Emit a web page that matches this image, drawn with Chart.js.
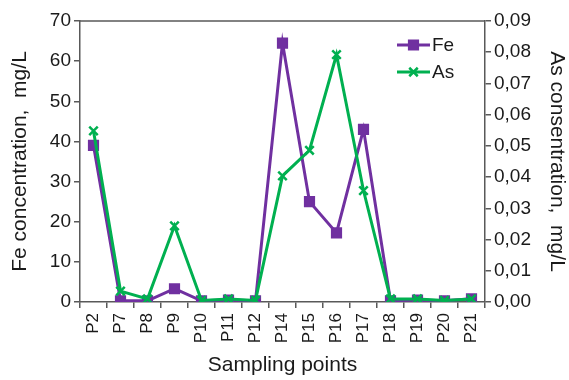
<!DOCTYPE html>
<html>
<head>
<meta charset="utf-8">
<script src="https://cdn.jsdelivr.net/npm/chart.js@4"></script>
<style>
  html, body { margin: 0; padding: 0; background: #fff; }
  #wrap { width: 569px; height: 380px; }
</style>
</head>
<body>
<div id="wrap"><canvas id="chart"></canvas></div>
<script>
const POINTS = ['P2', 'P7', 'P8', 'P9', 'P10', 'P11', 'P12', 'P14', 'P15', 'P16', 'P17', 'P18', 'P19', 'P20', 'P21'];
const FE = [39, 0.3, 0.3, 3.3, 0.3, 0.5, 0.3, 64.5, 25, 17.2, 43, 0.3, 0.5, 0.3, 0.8];
const AS = [0.0548, 0.0035, 0.001, 0.0244, 0.0005, 0.001, 0.0005, 0.0404, 0.0486, 0.0792, 0.0357, 0.001, 0.001, 0.0005, 0.001];
const FE_TICKS = [0, 70, 10];
const AS_TICKS = [0, 0.09, 0.01];

const PURPLE = '#7030a0';
const GREEN = '#00b050';
const AXIS = '#595959';
const FONT = "'Liberation Sans', Arial, sans-serif";

Chart.defaults.font.family = FONT;
Chart.defaults.color = '#1a1a1a';

// legend drawn inside the plot, top right
const innerLegend = {
    id: 'innerLegend',
    afterDraw(chart) {
        const ctx = chart.ctx;
        const items = [
            { ds: chart.data.datasets[0], y: 45 },
            { ds: chart.data.datasets[1], y: 72 }
        ];
        ctx.save();
        items.forEach(it => {
            ctx.strokeStyle = it.ds.borderColor;
            ctx.lineWidth = it.ds.borderWidth;
            ctx.beginPath();
            ctx.moveTo(397, it.y);
            ctx.lineTo(430, it.y);
            ctx.stroke();
            ctx.fillStyle = it.ds.pointBackgroundColor;
            ctx.strokeStyle = it.ds.borderColor;
            ctx.lineWidth = it.ds.pointBorderWidth;
            Chart.helpers.drawPoint(ctx, {
                pointStyle: it.ds.pointStyle,
                radius: it.ds.pointRadius,
                rotation: 0,
                borderWidth: it.ds.pointBorderWidth
            }, 413.5, it.y);
            ctx.fillStyle = '#1a1a1a';
            ctx.font = '19px ' + FONT;
            ctx.textBaseline = 'middle';
            ctx.textAlign = 'left';
            ctx.fillText(it.ds.label, 432, it.y + 1);
        });
        // top frame line
        const a = chart.chartArea;
        ctx.strokeStyle = AXIS;
        ctx.lineWidth = 1.5;
        ctx.beginPath();
        ctx.moveTo(a.left, a.top);
        ctx.lineTo(a.right, a.top);
        ctx.stroke();
        ctx.restore();
    }
};

new Chart(document.getElementById('chart'), {
    type: 'line',
    data: {
        labels: POINTS,
        datasets: [
            {
                label: 'Fe',
                data: FE,
                yAxisID: 'y',
                order: 1,
                borderColor: PURPLE,
                backgroundColor: PURPLE,
                borderWidth: 3,
                pointStyle: 'rect',
                pointRadius: 6.5,
                pointBorderWidth: 2,
                pointBackgroundColor: PURPLE,
                tension: 0
            },
            {
                label: 'As',
                data: AS,
                yAxisID: 'y1',
                order: 0,
                borderColor: GREEN,
                backgroundColor: GREEN,
                borderWidth: 3,
                pointStyle: 'crossRot',
                pointRadius: 6,
                pointBorderWidth: 2.5,
                pointBackgroundColor: GREEN,
                tension: 0
            }
        ]
    },
    options: {
        responsive: true,
        maintainAspectRatio: false,
        animation: false,
        layout: { padding: { top: 21, left: 0, right: 0, bottom: 0 } },
        plugins: {
            legend: { display: false },
            tooltip: { enabled: false }
        },
        scales: {
            x: {
                offset: true,
                grid: { display: true, offset: true, drawOnChartArea: false, tickLength: 6, color: AXIS, lineWidth: 1.5 },
                border: { display: true, color: AXIS, width: 1.5 },
                ticks: { minRotation: 90, maxRotation: 90, padding: 5, font: { size: 17 }, color: '#1a1a1a' },
                title: { display: true, text: 'Sampling points', font: { size: 21 }, padding: { top: 0, bottom: 2 }, color: '#1a1a1a' },
                afterFit: s => { s.height = 78; }
            },
            y: {
                position: 'left',
                min: FE_TICKS[0],
                max: FE_TICKS[1],
                grid: { drawOnChartArea: false, tickLength: 6, color: AXIS, lineWidth: 1.5 },
                border: { display: true, color: AXIS, width: 1.5 },
                ticks: { stepSize: FE_TICKS[2], padding: 3, font: { size: 19 }, color: '#1a1a1a' },
                title: { display: true, text: 'Fe concentration,  mg/L', font: { size: 21 }, padding: { top: 8, bottom: 0 }, color: '#1a1a1a' },
                afterFit: s => { s.width = 80; }
            },
            y1: {
                position: 'right',
                min: AS_TICKS[0],
                max: AS_TICKS[1],
                grid: { drawOnChartArea: false, tickLength: 6, color: AXIS, lineWidth: 1.5 },
                border: { display: true, color: AXIS, width: 1.5 },
                ticks: {
                    stepSize: AS_TICKS[2],
                    padding: 3,
                    font: { size: 19 },
                    color: '#1a1a1a',
                    callback: v => v.toFixed(2).replace('.', ',')
                },
                title: { display: true, text: 'As consentration,  mg/L', font: { size: 21 }, padding: { top: 0, bottom: 0 }, color: '#1a1a1a' },
                afterFit: s => { s.width = 84; }
            }
        }
    },
    plugins: [innerLegend]
});
</script>
</body>
</html>
